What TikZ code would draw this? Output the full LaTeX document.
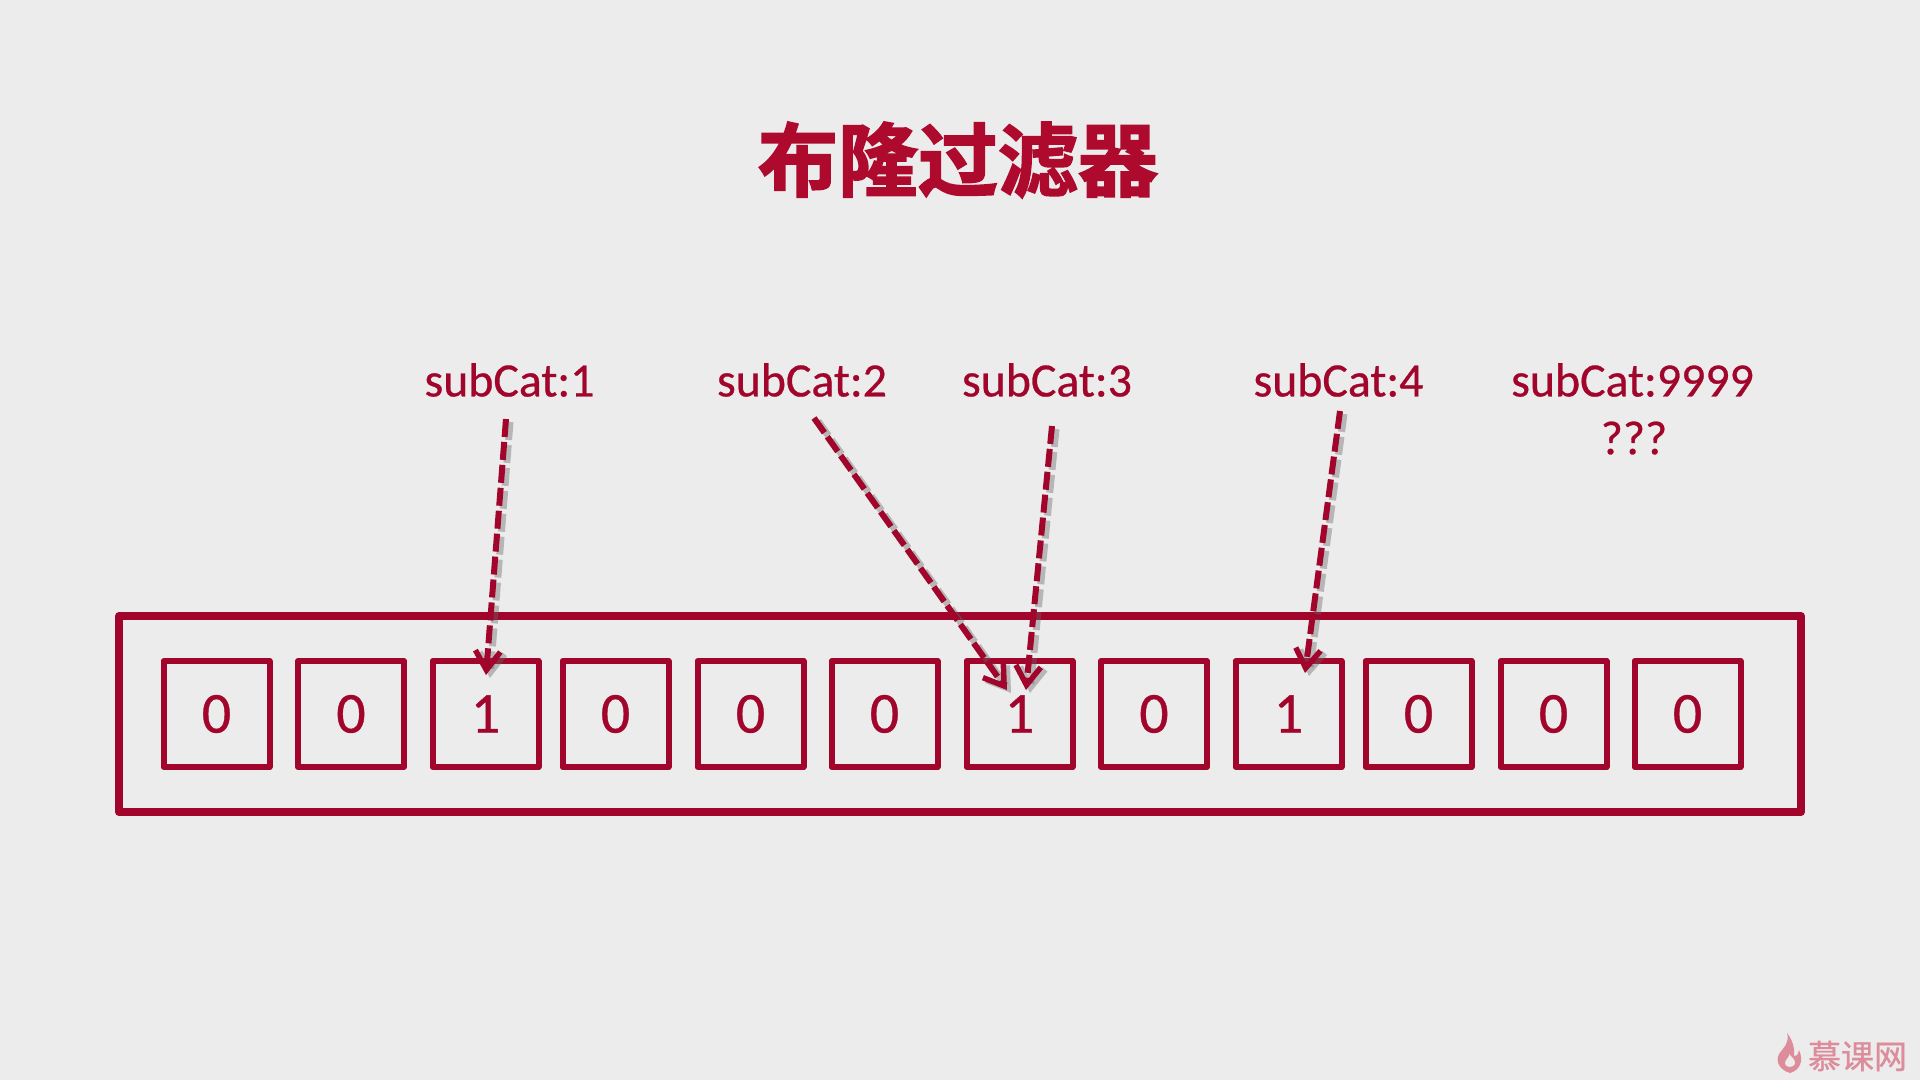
\documentclass[tikz,border=0pt]{standalone}
\usepackage{fontspec}
\setmainfont[FakeBold=0.6]{Carlito}
\newfontfamily\cjk[FakeBold=2.2]{Noto Sans CJK SC Bold}
\newfontfamily\cjklight[FakeBold=0.8]{Noto Sans CJK SC}
\usetikzlibrary{arrows.meta}
\definecolor{brandred}{HTML}{A1052B}
\definecolor{titlered}{HTML}{AE0A2D}
\definecolor{paper}{HTML}{ECECEC}
\definecolor{wmpink}{HTML}{DC8C9A}
\tikzset{
  x=1pt,y=-1pt,
  cell/.style={draw=brandred,line width=6pt,line join=round,minimum width=106pt,minimum height=106pt,inner sep=0pt,text=brandred,font=\fontsize{58}{58}\selectfont},
  track/.style={draw=brandred,line width=8pt,line join=round,minimum width=1682pt,minimum height=196pt,inner sep=0pt},
  lbl/.style={text=brandred,inner sep=0pt,font=\fontsize{47.8}{50}\selectfont},
  arrowline/.style={draw=brandred,line width=6pt,dash pattern=on 18pt off 5pt,-{Straight Barb[length=19pt,width=25pt,line width=5.5pt]}},
  arrowshade/.style={draw=black!60,opacity=.4,line width=7pt,dash pattern=on 18pt off 5pt,-{Straight Barb[length=19pt,width=25pt,line width=6.5pt]},transform canvas={shift={(4pt,-3pt)}}},
}
\begin{document}
\begin{tikzpicture}
\useasboundingbox (0,0) rectangle (1920,1080);
\fill[paper] (0,0) rectangle (1920,1080);
\node[text=titlered,inner sep=0pt,font=\cjk\fontsize{80}{80}\selectfont] (title) at (958,160) {布隆过滤器};
\node[track] (track) at (960,714) {};
\node[cell] (c1) at (216.5,714) {0};
\node[cell] (c2) at (351,714) {0};
\node[cell] (c3) at (485.5,714) {1};
\node[cell] (c4) at (615.5,714) {0};
\node[cell] (c5) at (750.5,714) {0};
\node[cell] (c6) at (884.5,714) {0};
\node[cell] (c7) at (1019.5,714) {1};
\node[cell] (c8) at (1154,714) {0};
\node[cell] (c9) at (1288.5,714) {1};
\node[cell] (c10) at (1418.5,714) {0};
\node[cell] (c11) at (1553.5,714) {0};
\node[cell] (c12) at (1687.5,714) {0};
\node[lbl] (l1) at (509.5,380) {subCat:1};
\node[lbl] (l2) at (802,380) {subCat:2};
\node[lbl] (l3) at (1047,380) {subCat:3};
\node[lbl] (l4) at (1338.5,380) {subCat:4};
\node[lbl] (l5) at (1632.5,380) {subCat:9999};
\node[lbl] (l6) at (1634,438) {???};
\coordinate (s1) at (506,419);
\coordinate (t1) at (486,675);
\coordinate (s2) at (814,418);
\coordinate (t2) at (1007,690);
\coordinate (s3) at (1052,426);
\coordinate (t3) at (1026,690);
\coordinate (s4) at (1340,411);
\coordinate (t4) at (1305,673);
\foreach \n in {1,2,3,4}{\draw[arrowshade] (s\n) -- (t\n);}
\foreach \n in {1,2,3,4}{\draw[arrowline] (s\n) -- (t\n);}
% watermark
\fill[wmpink,even odd rule] (1787,1033) .. controls (1790,1042) and (1784,1047) .. (1779,1054)
  .. controls (1775,1062) and (1780,1070) .. (1790,1073)
  .. controls (1800,1070) and (1804,1061) .. (1799,1050)
  .. controls (1798,1055) and (1796,1057) .. (1794,1056)
  .. controls (1795,1048) and (1792,1039) .. (1787,1033) -- cycle
  (1789,1054) .. controls (1790,1057) and (1784,1060) .. (1785,1064)
  .. controls (1786,1068) and (1793,1068) .. (1795,1064)
  .. controls (1796,1060) and (1792,1057) .. (1789,1054) -- cycle;
\node[text=wmpink,inner sep=0pt,font=\cjklight\fontsize{33}{33}\selectfont] (wm) at (1857.5,1056) {慕课网};
\end{tikzpicture}
\end{document}
